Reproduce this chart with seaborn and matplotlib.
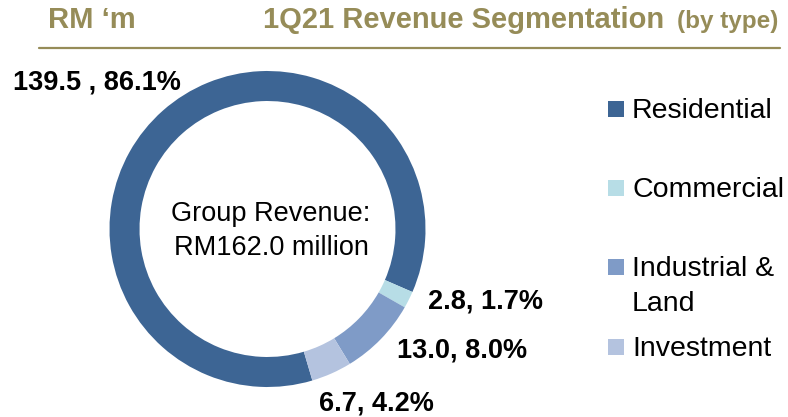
import matplotlib
matplotlib.use("Agg")
import matplotlib.pyplot as plt
from matplotlib.lines import Line2D
from matplotlib.patches import Rectangle
import seaborn as sns

# 1Q21 revenue by type (RM 'm)
categories = ["Residential", "Commercial", "Industrial &\nLand", "Investment"]
revenue = [139.5, 2.8, 13.0, 6.7]
value_labels = ["139.5 , 86.1%", "2.8, 1.7%", "13.0, 8.0%", "6.7, 4.2%"]
colors = ["#3D6594", "#B7DDE6", "#7F9BC7", "#B4C3DF"]

# label anchors in pie data units (ring radius = 1)
label_pos = [(-1.079, 0.886), (1.377, -0.506), (1.231, -0.816), (0.690, -1.146)]

olive = "#968C58"

sns.set_theme(style="white")
plt.rcParams["font.family"] = ["Liberation Sans", "DejaVu Sans"]

W, H = 788, 417
fig = plt.figure(figsize=(W / 100, H / 100), dpi=100)

# donut: centre (267.5, 229) px, radius 158 px
cx, cy, r = 267.5, 229, 158
ax = fig.add_axes([(cx - r) / W, (H - cy - r) / H, 2 * r / W, 2 * r / H])
wedges, _ = ax.pie(
    revenue,
    colors=colors,
    startangle=-73.5,
    counterclock=False,
    wedgeprops=dict(width=0.19, linewidth=0),
)
for w in wedges:
    w.set_clip_on(False)
ax.set_xlim(-1, 1)
ax.set_ylim(-1, 1)
ax.axis("off")

for (x, y), txt in zip(label_pos, value_labels):
    ax.text(x, y, txt, ha="center", va="baseline", fontsize=19.5,
            fontweight="bold", color="black")

# va="baseline" on two lines pins the last line's baseline
ax.text(0.022, -0.165, "Group Revenue:\nRM162.0 million", ha="center",
        va="baseline", fontsize=19.5, color="black", linespacing=1.4)

# header
fig.text(48 / W, 1 - 28 / H, "RM \u2018m", fontsize=21, fontweight="bold",
         color=olive, va="baseline")
fig.text(263 / W, 1 - 28 / H, "1Q21 Revenue Segmentation", fontsize=21,
         fontweight="bold", color=olive, va="baseline")
fig.text(778 / W, 1 - 28 / H, "(by type)", fontsize=17.5, fontweight="bold",
         color=olive, va="baseline", ha="right")
fig.add_artist(Line2D([39 / W, 780 / W], [1 - 47.7 / H] * 2,
                      transform=fig.transFigure, color=olive, lw=1.6))

# legend, drawn by hand so the two-line entry keeps its square on line one
row_y = [109, 188, 267, 347]
leg_size = 20.5
for name, col, y in zip(categories, colors, row_y):
    fig.add_artist(Rectangle((608 / W, 1 - (y + 8) / H), 16 / W, 16 / H,
                             transform=fig.transFigure, color=col, lw=0))
    top = y - 0.37 * leg_size * 100 / 72
    fig.text(632 / W, 1 - top / H, name, fontsize=leg_size, color="black",
             va="top", linespacing=1.45)

fig.savefig("out.png", dpi=100)
